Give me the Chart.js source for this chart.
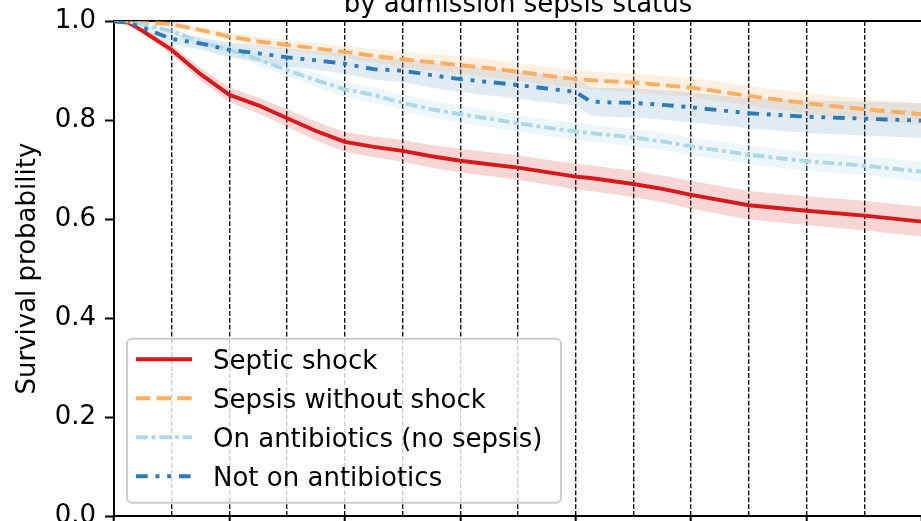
<!DOCTYPE html>
<html>
<head>
<meta charset="utf-8">
<script src="https://cdn.jsdelivr.net/npm/chart.js@4.4.1/dist/chart.umd.min.js"></script>
<style>
  html, body { margin: 0; padding: 0; background: #fff; overflow: hidden; }
  #wrap { position: relative; width: 921px; height: 521px; overflow: hidden; }
  #box { position: absolute; left: 0; top: -30px; width: 940px; height: 580px; }
</style>
</head>
<body>
<div id="wrap"><div id="box"><canvas id="kmChart"></canvas></div></div>
<script>
// days since admission
const days = [0, 0.5, 1, 2, 3, 4, 5, 6, 7, 8, 9, 10, 11, 12, 13, 14, 15, 16, 16.5, 17, 18, 19, 20, 22, 24, 26, 28];

const septicShock   = [1.0, 0.997, 0.980, 0.942, 0.893, 0.851, 0.830, 0.804, 0.778, 0.756, 0.746, 0.738, 0.727, 0.718, 0.711, 0.704, 0.695, 0.686, 0.683, 0.679, 0.671, 0.661, 0.649, 0.628, 0.617, 0.607, 0.595];
const septicShockLo = [1.0, 0.995, 0.974, 0.932, 0.880, 0.836, 0.814, 0.786, 0.759, 0.736, 0.725, 0.716, 0.704, 0.694, 0.687, 0.679, 0.670, 0.660, 0.657, 0.653, 0.644, 0.634, 0.621, 0.599, 0.588, 0.577, 0.565];
const septicShockHi = [1.0, 0.999, 0.986, 0.952, 0.906, 0.866, 0.846, 0.822, 0.797, 0.776, 0.767, 0.760, 0.750, 0.742, 0.735, 0.729, 0.720, 0.712, 0.709, 0.705, 0.698, 0.688, 0.677, 0.657, 0.646, 0.637, 0.625];

const sepsisNoShock   = [1.0, 1.0, 0.998, 0.994, 0.982, 0.969, 0.959, 0.952, 0.945, 0.938, 0.930, 0.923, 0.917, 0.911, 0.905, 0.898, 0.890, 0.883, 0.881, 0.879, 0.876, 0.871, 0.866, 0.849, 0.834, 0.822, 0.812];
const sepsisNoShockLo = [1.0, 0.999, 0.996, 0.990, 0.976, 0.961, 0.950, 0.942, 0.934, 0.926, 0.916, 0.907, 0.900, 0.893, 0.887, 0.880, 0.872, 0.865, 0.863, 0.861, 0.857, 0.852, 0.847, 0.829, 0.813, 0.801, 0.790];
const sepsisNoShockHi = [1.0, 1.0, 1.0, 0.998, 0.988, 0.977, 0.968, 0.962, 0.956, 0.950, 0.944, 0.939, 0.934, 0.929, 0.923, 0.916, 0.908, 0.901, 0.899, 0.897, 0.895, 0.890, 0.885, 0.869, 0.855, 0.843, 0.834];

const onAbx   = [1.0, 0.999, 0.994, 0.980, 0.958, 0.942, 0.923, 0.901, 0.881, 0.862, 0.851, 0.835, 0.822, 0.812, 0.803, 0.794, 0.785, 0.777, 0.774, 0.771, 0.765, 0.757, 0.747, 0.730, 0.717, 0.708, 0.696];
const onAbxLo = [1.0, 0.998, 0.991, 0.974, 0.950, 0.932, 0.911, 0.888, 0.867, 0.847, 0.835, 0.819, 0.805, 0.795, 0.786, 0.777, 0.768, 0.760, 0.757, 0.754, 0.748, 0.739, 0.729, 0.711, 0.698, 0.689, 0.676];
const onAbxHi = [1.0, 1.0, 0.997, 0.986, 0.966, 0.952, 0.935, 0.914, 0.895, 0.877, 0.867, 0.851, 0.839, 0.829, 0.820, 0.811, 0.802, 0.794, 0.791, 0.788, 0.782, 0.775, 0.765, 0.749, 0.736, 0.727, 0.716];

const noAbx   = [1.0, 0.997, 0.987, 0.964, 0.955, 0.942, 0.935, 0.927, 0.921, 0.914, 0.903, 0.900, 0.891, 0.883, 0.877, 0.871, 0.864, 0.857, 0.838, 0.836, 0.835, 0.831, 0.826, 0.814, 0.807, 0.803, 0.799];
const noAbxLo = [1.0, 0.995, 0.982, 0.954, 0.943, 0.927, 0.918, 0.909, 0.902, 0.894, 0.882, 0.877, 0.866, 0.857, 0.850, 0.844, 0.836, 0.829, 0.810, 0.807, 0.806, 0.801, 0.796, 0.783, 0.774, 0.769, 0.764];
const noAbxHi = [1.0, 0.999, 0.992, 0.974, 0.967, 0.957, 0.952, 0.945, 0.940, 0.934, 0.924, 0.923, 0.916, 0.909, 0.904, 0.898, 0.892, 0.885, 0.866, 0.865, 0.864, 0.861, 0.856, 0.845, 0.840, 0.837, 0.834];

const yTicks = [0, 0.2, 0.4, 0.6, 0.8, 1.0];

const FONT = "DejaVu Sans";
Chart.defaults.font.family = FONT;
Chart.defaults.color = "#000";

const pts = (arr) => days.map((d, i) => ({ x: d, y: arr[i] }));

function band(hi, lo, color) {
  return [
    { data: pts(hi), fill: "+1", backgroundColor: color, borderWidth: 0, pointRadius: 0, order: 10, isBand: true },
    { data: pts(lo), fill: false, borderWidth: 0, pointRadius: 0, order: 10, isBand: true },
  ];
}

function curve(label, arr, color, dash, order) {
  return {
    label: label,
    data: pts(arr),
    borderColor: color,
    borderWidth: 3.9,
    borderDash: dash,
    borderCapStyle: "butt",
    borderJoinStyle: "round",
    pointRadius: 0,
    tension: 0,
    fill: false,
    order: order,
  };
}

// legend drawn inside the plot, matplotlib style
const innerLegend = {
  id: "innerLegend",
  afterDraw(chart) {
    const { ctx, chartArea } = chart;
    const x0 = chartArea.left + 13, y0 = chartArea.top + 317.5;
    const w = 434, h = 164, r = 5;
    ctx.save();
    ctx.beginPath();
    ctx.roundRect(x0, y0, w, h, r);
    ctx.fillStyle = "rgba(255,255,255,0.8)";
    ctx.fill();
    ctx.lineWidth = 2;
    ctx.strokeStyle = "#cccccc";
    ctx.stroke();

    const items = chart.data.datasets.filter((d) => !d.isBand);
    ctx.font = "26px '" + FONT + "'";
    ctx.textAlign = "left";
    ctx.textBaseline = "alphabetic";
    items.forEach((ds, i) => {
      const cy = chartArea.top + 338 + i * 39;
      ctx.beginPath();
      ctx.setLineDash(ds.borderDash || []);
      ctx.lineCap = "butt";
      ctx.lineWidth = ds.borderWidth;
      ctx.strokeStyle = ds.borderColor;
      ctx.moveTo(chartArea.left + 22, cy);
      ctx.lineTo(chartArea.left + 78, cy);
      ctx.stroke();
      ctx.setLineDash([]);
      ctx.fillStyle = "#000";
      ctx.fillText(ds.label, chartArea.left + 99, cy + 9.5);
    });
    ctx.restore();
  },
};

const ctx = document.getElementById("kmChart").getContext("2d");
const kmChart = new Chart(ctx, {
  type: "line",
  data: {
    datasets: [
      ...band(septicShockHi, septicShockLo, "rgba(215,25,28,0.18)"),
      ...band(sepsisNoShockHi, sepsisNoShockLo, "rgba(253,174,97,0.18)"),
      ...band(onAbxHi, onAbxLo, "rgba(171,217,233,0.22)"),
      ...band(noAbxHi, noAbxLo, "rgba(44,123,182,0.15)"),
      curve("Septic shock", septicShock, "#d7191c", [], 4),
      curve("Sepsis without shock", sepsisNoShock, "#fdae61", [14.4, 6.2], 3),
      curve("On antibiotics (no sepsis)", onAbx, "#abd9e9", [11.7, 3.9, 3.9, 3.9], 2),
      curve("Not on antibiotics", noAbx, "#2c7bb6", [11.7, 7.8, 3.9, 7.8, 3.9, 7.8], 1),
    ],
  },
  options: {
    responsive: true,
    maintainAspectRatio: false,
    animation: false,
    events: [],
    layout: { padding: { left: 0, right: 18, top: 0, bottom: 0 } },
    scales: {
      x: {
        type: "linear",
        position: "bottom",
        min: 0,
        max: 28,
        ticks: { stepSize: 2, display: false },
        grid: {
          drawOnChartArea: true,
          tickLength: 9,
          lineWidth: 1.4,
          color: (c) => (c.tick && c.tick.value > 0 ? "#111" : "transparent"),
          tickWidth: 2,
          tickColor: (c) => (c.tick && c.tick.value % 4 === 0 ? "#000" : "transparent"),
          tickBorderDash: [],
        },
        border: { display: true, color: "#000", width: 2, dash: [4.8, 2.1] },
        afterFit(scale) { scale.height = 34; },
      },
      xTop: {
        type: "linear",
        position: "top",
        min: 0,
        max: 28,
        ticks: { display: false },
        grid: { display: false, drawTicks: false },
        border: { display: true, color: "#000", width: 2 },
        afterFit(scale) { scale.height = 0; },
      },
      y: {
        min: 0,
        max: 1,
        afterBuildTicks(scale) { scale.ticks = yTicks.map((v) => ({ value: v })); },
        ticks: {
          padding: 9,
          font: { size: 26 },
          color: "#000",
          callback: (v) => Number(v).toFixed(1),
        },
        grid: { drawOnChartArea: false, tickLength: 9, tickWidth: 2, tickColor: "#000" },
        border: { display: true, color: "#000", width: 2 },
        title: {
          display: true,
          text: "Survival probability",
          font: { size: 26 },
          color: "#000",
          padding: { top: 12.7, bottom: 0 },
        },
        afterFit(scale) { scale.width = 114; },
      },
    },
    plugins: {
      legend: { display: false },
      tooltip: { enabled: false },
      title: {
        display: true,
        text: "by admission sepsis status",
        fullSize: false,
        font: { size: 26, weight: "normal" },
        color: "#000",
        padding: { top: 20, bottom: 0 },
      },
    },
  },
  plugins: [innerLegend],
});
</script>
</body>
</html>
